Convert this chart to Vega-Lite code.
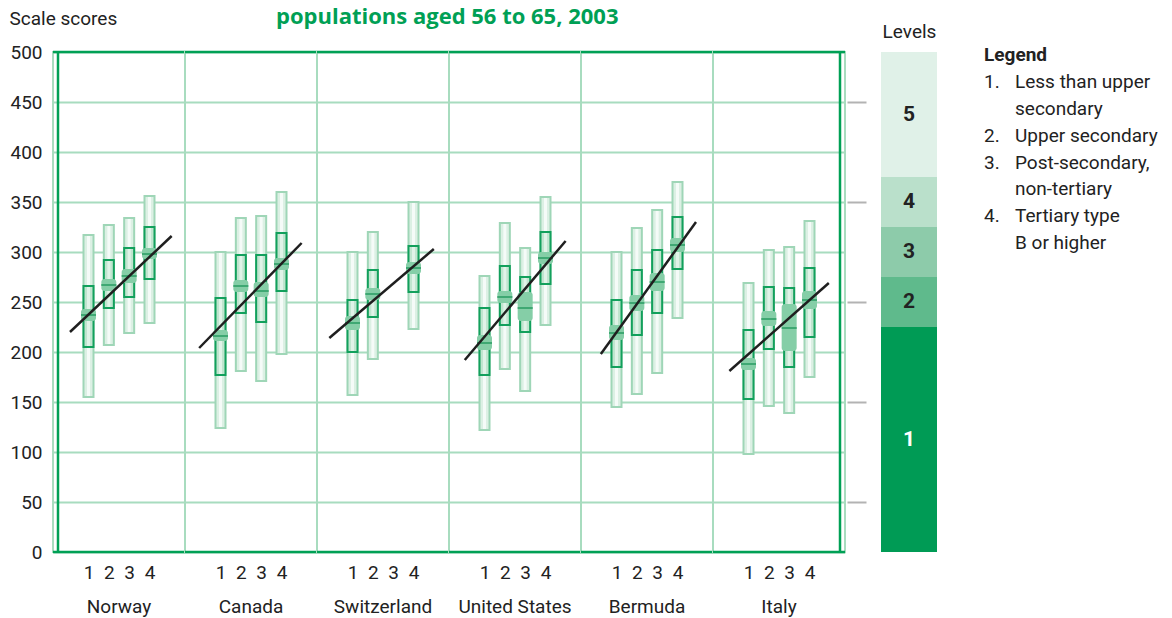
{
  "$schema": "https://vega.github.io/schema/vega-lite/v6.json",
  "background": "white",
  "padding": {"left": 9, "top": 6, "right": 0, "bottom": 0},
  "spacing": -2,
  "title": {"text": "populations aged 56 to 65, 2003", "anchor": "start", "frame": "bounds", "dx": 267, "font": "Open Sans", "fontSize": 22, "fontWeight": "bold", "color": "#00a055", "baseline": "alphabetic", "offset": -37},
  "config": {
    "font": "Roboto",
    "view": {"stroke": "#a8dcbf", "strokeWidth": 2},
    "axis": {"labelFont": "Roboto", "labelFontSize": 19, "labelColor": "#222222", "titleFont": "Roboto", "titleFontSize": 19, "titleFontWeight": "normal", "titleColor": "#222222"},
    "text": {"font": "Roboto"}
  },
  "hconcat": [
    {
      "data": {"values": [
        {"country": "Norway", "level": 1, "p5": 155, "p25": 205, "p75": 266, "p95": 317, "mean": 237, "lo": 231, "hi": 243},
        {"country": "Norway", "level": 2, "p5": 207, "p25": 244, "p75": 292, "p95": 327, "mean": 267, "lo": 261, "hi": 273},
        {"country": "Norway", "level": 3, "p5": 219, "p25": 255, "p75": 304, "p95": 334, "mean": 276, "lo": 269, "hi": 283},
        {"country": "Norway", "level": 4, "p5": 229, "p25": 273, "p75": 325, "p95": 356, "mean": 298, "lo": 293, "hi": 304},
        {"country": "Canada", "level": 1, "p5": 124, "p25": 177, "p75": 254, "p95": 300, "mean": 216, "lo": 211, "hi": 222},
        {"country": "Canada", "level": 2, "p5": 181, "p25": 239, "p75": 297, "p95": 334, "mean": 266, "lo": 260, "hi": 272},
        {"country": "Canada", "level": 3, "p5": 171, "p25": 230, "p75": 297, "p95": 336, "mean": 261, "lo": 255, "hi": 270},
        {"country": "Canada", "level": 4, "p5": 198, "p25": 261, "p75": 319, "p95": 360, "mean": 288, "lo": 282, "hi": 294},
        {"country": "Switzerland", "level": 1, "p5": 157, "p25": 200, "p75": 252, "p95": 300, "mean": 229, "lo": 222, "hi": 236},
        {"country": "Switzerland", "level": 2, "p5": 193, "p25": 235, "p75": 282, "p95": 320, "mean": 258, "lo": 252, "hi": 264},
        {"country": "Switzerland", "level": 4, "p5": 223, "p25": 260, "p75": 306, "p95": 350, "mean": 284, "lo": 278, "hi": 290},
        {"country": "United States", "level": 1, "p5": 122, "p25": 177, "p75": 244, "p95": 276, "mean": 209, "lo": 202, "hi": 217},
        {"country": "United States", "level": 2, "p5": 183, "p25": 227, "p75": 286, "p95": 329, "mean": 255, "lo": 249, "hi": 261},
        {"country": "United States", "level": 3, "p5": 161, "p25": 220, "p75": 275, "p95": 304, "mean": 244, "lo": 231, "hi": 260},
        {"country": "United States", "level": 4, "p5": 227, "p25": 268, "p75": 320, "p95": 355, "mean": 294, "lo": 288, "hi": 300},
        {"country": "Bermuda", "level": 1, "p5": 145, "p25": 185, "p75": 252, "p95": 300, "mean": 219, "lo": 212, "hi": 227},
        {"country": "Bermuda", "level": 2, "p5": 158, "p25": 217, "p75": 282, "p95": 324, "mean": 249, "lo": 241, "hi": 257},
        {"country": "Bermuda", "level": 3, "p5": 179, "p25": 239, "p75": 302, "p95": 342, "mean": 270, "lo": 261, "hi": 279},
        {"country": "Bermuda", "level": 4, "p5": 234, "p25": 283, "p75": 335, "p95": 370, "mean": 307, "lo": 300, "hi": 314},
        {"country": "Italy", "level": 1, "p5": 98, "p25": 153, "p75": 222, "p95": 269, "mean": 188, "lo": 182, "hi": 194},
        {"country": "Italy", "level": 2, "p5": 146, "p25": 203, "p75": 265, "p95": 302, "mean": 233, "lo": 226, "hi": 241},
        {"country": "Italy", "level": 3, "p5": 139, "p25": 185, "p75": 264, "p95": 305, "mean": 224, "lo": 201, "hi": 248},
        {"country": "Italy", "level": 4, "p5": 175, "p25": 215, "p75": 284, "p95": 331, "mean": 252, "lo": 243, "hi": 261},
        {"country": "Norway", "rx1": 0.09, "ry1": 220, "rx2": 5.09, "ry2": 316},
        {"country": "Canada", "rx1": -0.05, "ry1": 204, "rx2": 4.99, "ry2": 309},
        {"country": "Switzerland", "rx1": -0.14, "ry1": 214, "rx2": 5.0, "ry2": 303},
        {"country": "United States", "rx1": 0.03, "ry1": 192, "rx2": 4.99, "ry2": 311},
        {"country": "Bermuda", "rx1": 0.23, "ry1": 198, "rx2": 4.91, "ry2": 330},
        {"country": "Italy", "rx1": 0.06, "ry1": 181, "rx2": 4.95, "ry2": 269}
      ]},
      "facet": {
        "column": {
          "field": "country", "type": "nominal",
          "sort": ["Norway", "Canada", "Switzerland", "United States", "Bermuda", "Italy"],
          "title": null,
          "header": {"labelOrient": "bottom", "labelFontSize": 19, "labelFont": "Roboto", "labelColor": "#222222", "labelPadding": 16}
        }
      },
      "bounds": "flush",
      "spacing": {"column": 0},
      "spec": {
        "width": 132,
        "height": 500,
        "layer": [
          {
            "transform": [{"filter": "isValid(datum.p5)"}],
            "mark": {"type": "bar", "size": 10, "fill": "#dcf0e4", "strokeWidth": 0},
            "encoding": {
              "x": {"field": "level", "type": "quantitative", "title": null, "scale": {"domain": [-0.5, 5.5], "nice": false, "zero": false},
                "axis": {"values": [1, 2, 3, 4], "ticks": false, "domain": false, "grid": false, "labelPadding": 11, "format": "d", "title": null}},
              "y": {"field": "p5", "type": "quantitative", "title": "Scale scores", "scale": {"domain": [0, 500], "nice": false, "zero": false},
                "axis": {"title": "Scale scores", "titleAngle": 0, "titleAlign": "left", "titleBaseline": "middle", "titleX": -44, "titleY": -34,
                  "values": [0, 50, 100, 150, 200, 250, 300, 350, 400, 450, 500], "ticks": false, "domain": false, "labelPadding": 11, "grid": true,
                  "gridColor": "#a8dcbf", "gridWidth": 2}},
              "y2": {"field": "p95"}
            }
          },
          {
            "transform": [{"filter": "isValid(datum.p5)"}],
            "mark": {"type": "bar", "size": 3, "fill": "#f5fbf8", "strokeWidth": 0},
            "encoding": {
              "x": {"field": "level", "type": "quantitative", "title": null},
              "y": {"field": "p5", "type": "quantitative"},
              "y2": {"field": "p95"}
            }
          },
          {
            "transform": [{"filter": "isValid(datum.p5)"}],
            "mark": {"type": "bar", "size": 10, "fillOpacity": 0, "stroke": "#9fd6b7", "strokeWidth": 2},
            "encoding": {
              "x": {"field": "level", "type": "quantitative", "title": null},
              "y": {"field": "p5", "type": "quantitative"},
              "y2": {"field": "p95"}
            }
          },
          {
            "transform": [{"filter": "isValid(datum.p25)"}],
            "mark": {"type": "bar", "size": 10, "fill": "#c0e5cf", "strokeWidth": 0},
            "encoding": {
              "x": {"field": "level", "type": "quantitative", "title": null},
              "y": {"field": "p25", "type": "quantitative"},
              "y2": {"field": "p75"}
            }
          },
          {
            "transform": [{"filter": "isValid(datum.p25)"}],
            "mark": {"type": "bar", "size": 3, "fill": "#e0f3e8", "strokeWidth": 0},
            "encoding": {
              "x": {"field": "level", "type": "quantitative", "title": null},
              "y": {"field": "p25", "type": "quantitative"},
              "y2": {"field": "p75"}
            }
          },
          {
            "transform": [{"filter": "isValid(datum.p25)"}],
            "mark": {"type": "bar", "size": 10, "fillOpacity": 0, "stroke": "#12a05c", "strokeWidth": 2},
            "encoding": {
              "x": {"field": "level", "type": "quantitative", "title": null},
              "y": {"field": "p25", "type": "quantitative"},
              "y2": {"field": "p75"}
            }
          },
          {
            "transform": [{"filter": "isValid(datum.lo)"}],
            "mark": {"type": "bar", "size": 15, "fill": "#85cea7", "cornerRadius": 3, "strokeWidth": 0},
            "encoding": {
              "x": {"field": "level", "type": "quantitative", "title": null},
              "y": {"field": "lo", "type": "quantitative"},
              "y2": {"field": "hi"}
            }
          },
          {
            "transform": [{"filter": "isValid(datum.mean)"}],
            "mark": {"type": "tick", "orient": "horizontal", "size": 15, "thickness": 2, "color": "#3fa873", "opacity": 1},
            "encoding": {
              "x": {"field": "level", "type": "quantitative", "title": null},
              "y": {"field": "mean", "type": "quantitative"}
            }
          },
          {
            "transform": [{"filter": "isValid(datum.rx1)"}],
            "mark": {"type": "rule", "color": "#00a055", "strokeWidth": 2.5},
            "encoding": {
              "y": {"datum": 500, "type": "quantitative"}
            }
          },
          {
            "transform": [{"filter": "isValid(datum.rx1)"}],
            "mark": {"type": "rule", "color": "#00a055", "strokeWidth": 2.5},
            "encoding": {
              "y": {"datum": 0, "type": "quantitative"}
            }
          },
          {
            "transform": [{"filter": "datum.country === 'Norway' && isValid(datum.rx1)"}],
            "mark": {"type": "rule", "color": "#00a055", "strokeWidth": 2.5},
            "encoding": {
              "x": {"datum": -0.5, "type": "quantitative", "title": null}
            }
          },
          {
            "transform": [{"filter": "datum.country === 'Italy' && isValid(datum.rx1)"}],
            "mark": {"type": "rule", "color": "#00a055", "strokeWidth": 2.5},
            "encoding": {
              "x": {"datum": 5.5, "type": "quantitative", "title": null}
            }
          },
          {
            "transform": [{"filter": "isValid(datum.rx1)"}],
            "mark": {"type": "rule", "color": "#1f1f1f", "strokeWidth": 2.5},
            "encoding": {
              "x": {"field": "rx1", "type": "quantitative", "title": null},
              "x2": {"field": "rx2"},
              "y": {"field": "ry1", "type": "quantitative"},
              "y2": {"field": "ry2"}
            }
          }
        ]
      }
    },
    {
      "width": 56,
      "height": 500,
      "view": {"stroke": null},
      "data": {"values": [
        {"level": "1", "lo": 0, "hi": 225},
        {"level": "2", "lo": 225, "hi": 275},
        {"level": "3", "lo": 275, "hi": 325},
        {"level": "4", "lo": 325, "hi": 375},
        {"level": "5", "lo": 375, "hi": 500}
      ]},
      "layer": [
        {
          "mark": {"type": "rect", "strokeWidth": 0},
          "encoding": {
            "y": {"field": "lo", "type": "quantitative", "title": "Levels", "scale": {"domain": [0, 500], "nice": false, "zero": false},
              "axis": {"values": [50, 150, 250, 350, 450], "labels": false, "domain": false, "grid": false, "tickSize": 19, "tickColor": "#b3b3b3", "tickWidth": 2, "offset": 15,
                "title": "Levels", "titleAngle": 0, "titleAlign": "center", "titleBaseline": "middle", "titleX": 43, "titleY": -21}},
            "y2": {"field": "hi"},
            "color": {"field": "level", "type": "nominal", "scale": {"domain": ["1", "2", "3", "4", "5"], "range": ["#009b55", "#5fba8c", "#8dcbaa", "#bae0cb", "#e0f1e8"]}, "legend": null}
          }
        },
        {
          "transform": [
            {"fold": ["lo", "hi"], "as": ["k", "v"]},
            {"aggregate": [{"op": "mean", "field": "v", "as": "mid"}], "groupby": ["level"]}
          ],
          "mark": {"type": "text", "fontSize": 21, "fontWeight": "bold", "font": "Roboto", "align": "center", "baseline": "middle"},
          "encoding": {
            "y": {"field": "mid", "type": "quantitative"},
            "text": {"field": "level"},
            "color": {"condition": {"test": "datum.level === '1'", "value": "#ffffff"}, "value": "#222222"}
          }
        }
      ]
    },
    {
      "width": 225,
      "height": 500,
      "view": {"stroke": null},
      "data": {"values": [
        {"line": 0, "num": "", "txt": "Legend"},
        {"line": 1, "num": "1.", "txt": "Less than upper"},
        {"line": 2, "num": "", "txt": "secondary"},
        {"line": 3, "num": "2.", "txt": "Upper secondary"},
        {"line": 4, "num": "3.", "txt": "Post-secondary,"},
        {"line": 5, "num": "", "txt": "non-tertiary"},
        {"line": 6, "num": "4.", "txt": "Tertiary type"},
        {"line": 7, "num": "", "txt": "B or higher"}
      ]},
      "layer": [
        {
          "transform": [{"filter": "datum.line === 0"}],
          "mark": {"type": "text", "align": "left", "baseline": "middle", "fontSize": 19, "fontWeight": "bold", "color": "#222222"},
          "encoding": {
            "x": {"datum": 0, "type": "quantitative", "scale": {"domain": [-1.516, 5.742], "nice": false, "zero": false}, "axis": null},
            "y": {"field": "line", "type": "quantitative", "scale": {"domain": [-0.11, 18.48], "reverse": true, "nice": false, "zero": false}, "axis": null},
            "text": {"field": "txt"}
          }
        },
        {
          "transform": [{"filter": "datum.line > 0"}],
          "mark": {"type": "text", "align": "left", "baseline": "middle", "fontSize": 19, "color": "#222222"},
          "encoding": {
            "x": {"datum": 0, "type": "quantitative", "axis": null},
            "y": {"field": "line", "type": "quantitative", "axis": null},
            "text": {"field": "num"}
          }
        },
        {
          "transform": [{"filter": "datum.line > 0"}],
          "mark": {"type": "text", "align": "left", "baseline": "middle", "fontSize": 19, "color": "#222222"},
          "encoding": {
            "x": {"datum": 1, "type": "quantitative", "axis": null},
            "y": {"field": "line", "type": "quantitative", "axis": null},
            "text": {"field": "txt"}
          }
        }
      ]
    }
  ]
}
